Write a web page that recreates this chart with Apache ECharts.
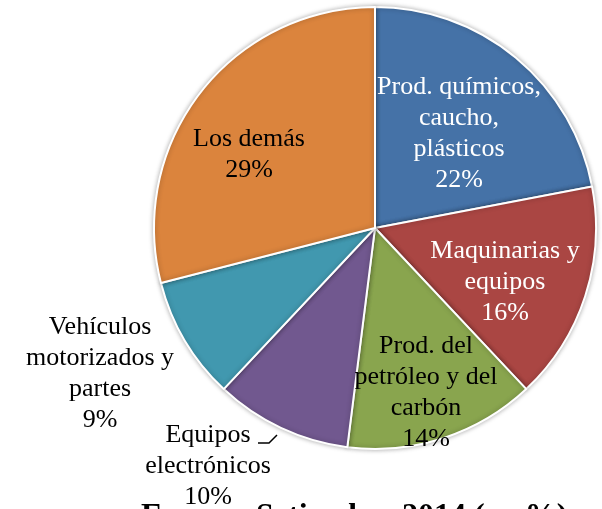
<!DOCTYPE html>
<html>
<head>
<meta charset="utf-8">
<script src="https://cdn.jsdelivr.net/npm/echarts@6/dist/echarts.min.js"></script>
<style>
  html, body { margin: 0; padding: 0; background: #fff; }
  #main { width: 602px; height: 509px; }
</style>
</head>
<body>
<div id="main"></div>
<script>
// datos
var categorias = [
  'Prod. químicos,\ncaucho,\nplásticos',
  'Maquinarias y\nequipos',
  'Prod. del\npetróleo y del\ncarbón',
  'Equipos\nelectrónicos',
  'Vehículos\nmotorizados y\npartes',
  'Los demás'
];
var valores = [22, 16, 14, 10, 9, 29];
var colores = ['#4572A7', '#AA4643', '#89A54E', '#71588F', '#4198AF', '#DB843D'];
var colorTexto = ['#fff', '#fff', '#000', '#000', '#000', '#000'];
// posicion de las etiquetas (centro del bloque de texto)
var posEtiquetas = [[459, 134], [505, 282], [426, 393], [208, 466], [100, 374], [249, 155]];

var myChart = echarts.init(document.getElementById('main'));

var option = {
  animation: false,
  title: {
    text: 'Enero – Setiembre 2014 (en %)',
    left: 136,
    top: 496,
    textStyle: {
      fontFamily: 'Liberation Serif',
      fontWeight: 'bold',
      fontSize: 32,
      color: '#000'
    }
  },
  graphic: [{
    type: 'polyline',
    shape: { points: [[258, 443], [269, 443], [277, 435]] },
    style: { stroke: '#000', lineWidth: 1.5, fill: null }
  }],
  series: [{
    type: 'pie',
    center: [375, 228],
    radius: 221,
    startAngle: 90,
    clockwise: true,
    itemStyle: {
      borderColor: '#fff',
      borderWidth: 2,
      shadowBlur: 5,
      shadowColor: 'rgba(0,0,0,0.3)'
    },
    label: {
      show: true,
      position: 'inside',
      formatter: '{b}\n{c}%',
      fontFamily: 'Liberation Serif',
      fontSize: 26,
      lineHeight: 31,
      align: 'center'
    },
    labelLine: { show: false },
    labelLayout: function (params) {
      var p = posEtiquetas[params.dataIndex];
      return { x: p[0], y: p[1], align: 'center', verticalAlign: 'middle' };
    },
    data: valores.map(function (v, i) {
      return {
        name: categorias[i],
        value: v,
        itemStyle: { color: colores[i] },
        label: { color: colorTexto[i] }
      };
    })
  }]
};

myChart.setOption(option);
</script>
</body>
</html>
